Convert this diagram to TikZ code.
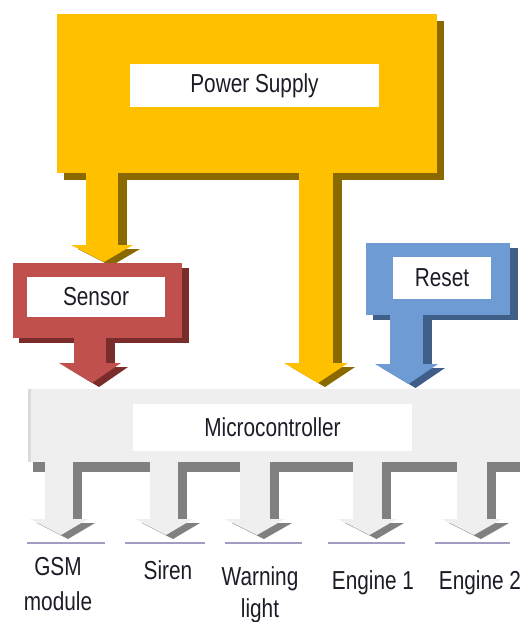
\documentclass[tikz,border=0pt]{standalone}
\usepackage{fontspec}
\newfontfamily\narrowsans[FakeStretch=0.8]{Liberation Sans}

\definecolor{gold}{HTML}{FFC000}
\definecolor{goldshade}{HTML}{8A6A00}
\definecolor{brick}{HTML}{C0504D}
\definecolor{brickshade}{HTML}{7A2C2A}
\definecolor{sky}{HTML}{6F9BD5}
\definecolor{skyshade}{HTML}{3F5E88}
\definecolor{mist}{HTML}{EFEFEF}
\definecolor{mistedge}{HTML}{D6DCDC}
\definecolor{mistshade}{HTML}{808080}
\definecolor{baseline}{HTML}{A29CC2}
\definecolor{ink}{HTML}{1C1C28}

% Extruded block arrow pointing down:
% #1 stem left, #2 stem right, #3 stem top, #4 head top, #5 tip, #6 face, #7 shade
\newcommand{\blockdown}[7]{%
  \fill[#7] (#2,#3) rectangle (#2+9,#4+2);
  \fill[#7] (#1-8,#4+4) -- (#2+22,#4+4) -- ({(#1+#2)/2+9},#5+4) -- cycle;
  \fill[#6] (#1,#3) rectangle (#2,#4+1);
  \fill[#6] (#1-15,#4) -- (#2+15,#4) -- ({(#1+#2)/2+2},#5) -- cycle;
}

\tikzset{
  tag/.style={fill=white, inner sep=0pt, text=ink,
    font=\narrowsans\fontsize{26}{31}\selectfont},
  outtag/.style={align=center, inner sep=0pt, anchor=base, text=ink,
    font=\narrowsans\fontsize{26}{35}\selectfont},
  baserule/.style={draw=baseline, line width=1.3pt}
}

\begin{document}
\begin{tikzpicture}[x=1pt, y=-1pt]
\fill[white] (0,0) rectangle (520,622);
\useasboundingbox (0,0) rectangle (520,622);

% Power supply
\fill[goldshade] (64,21) rectangle (444,180);
\fill[gold] (57,14) rectangle (437,173);
\blockdown{86}{118}{173}{245}{262}{gold}{goldshade}
\blockdown{299}{333}{173}{363}{383}{gold}{goldshade}
\node[tag, minimum width=249pt, minimum height=43pt] (power) at (254.5,85.5) {Power Supply};

% Sensor
\fill[brickshade] (19,268) rectangle (189,343);
\fill[brick] (13,263) rectangle (182,338);
\blockdown{74}{106}{338}{363}{383}{brick}{brickshade}
\node[tag, minimum width=138pt, minimum height=40pt] (sensor) at (96,297) {Sensor};

% Reset
\fill[skyshade] (373,248) rectangle (518,320);
\fill[sky] (366,243) rectangle (510,315);
\blockdown{390}{423}{315}{364}{384}{sky}{skyshade}
\node[tag, minimum width=98pt, minimum height=42pt] (reset) at (442,278) {Reset};

% Microcontroller and its outputs
\fill[mistshade] (33,398) rectangle (526,472);
\fill[mist] (28,389) rectangle (522,462);
\fill[mistedge] (28,389) rectangle (31,462);
\foreach \l/\r in {45/73, 150/178, 240/270, 353/382, 457/487}
  \blockdown{\l}{\r}{462}{519}{535}{mist}{mistshade}
\node[tag, minimum width=279pt, minimum height=47pt] (mcu) at (272.5,427.5) {Microcontroller};

% Output names (two-line names are anchored on their last line)
\draw[baserule] (27,543) -- (105,543);
\draw[baserule] (125,543) -- (205,543);
\draw[baserule] (225,543) -- (302,543);
\draw[baserule] (328,543) -- (405,543);
\draw[baserule] (435,543) -- (510,543);
\node[outtag] (gsm) at (58,610) {GSM\\module};
\node[outtag] (siren) at (168,579) {Siren};
\node[outtag] (warn) at (260,617) {Warning\\[-3pt]light};
\node[outtag] (eng1) at (373,589) {Engine 1};
\node[outtag] (eng2) at (480,589) {Engine 2};
\end{tikzpicture}
\end{document}
